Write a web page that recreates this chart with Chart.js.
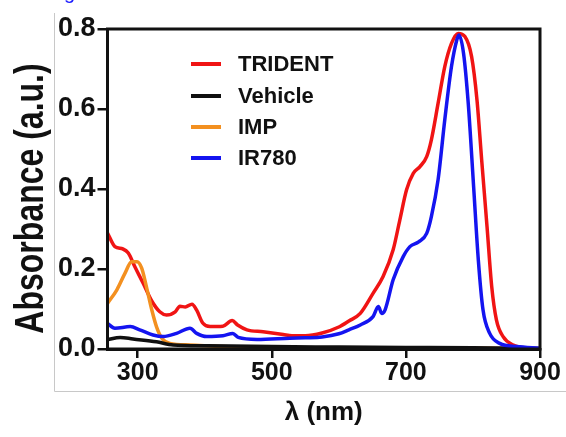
<!DOCTYPE html>
<html><head><meta charset="utf-8">
<script src="https://cdn.jsdelivr.net/npm/chart.js@4"></script>
<style>html,body{margin:0;padding:0;background:#fff}#wrap{width:566px;height:437px;position:relative}</style>
</head><body><div id="wrap"><canvas id="c" width="566" height="437"></canvas></div>
<script>
const seriesLabels = ['TRIDENT', 'Vehicle', 'IMP', 'IR780'];
const seriesColors = ['#f01414', '#101010', '#f39020', '#1414f0'];

const tridentWl  = [255,266,278,286,296,308,321,333,343,356,363,371,381,388,397,408,427,441,449,463,487,517,530,550,575,600,615,632,651,666,681,691,701,711,721,731,738,748,758,768,778,788,798,806,813,821,828,835,845,860,880,900];
const tridentAbs = [0.29,0.256,0.25,0.24,0.205,0.165,0.12,0.093,0.085,0.093,0.107,0.105,0.112,0.097,0.065,0.056,0.057,0.071,0.06,0.048,0.043,0.036,0.033,0.033,0.04,0.055,0.07,0.089,0.139,0.181,0.248,0.323,0.398,0.439,0.456,0.481,0.523,0.614,0.706,0.764,0.789,0.781,0.731,0.623,0.473,0.306,0.156,0.073,0.031,0.01,0.002,0.0];

const vehicleWl  = [255,274,293,328,353,403,500,600,700,800,900];
const vehicleAbs = [0.023,0.029,0.025,0.018,0.01,0.008,0.006,0.005,0.004,0.003,0.001];

const impWl  = [255,269,281,291,299,306,313,321,328,336,348,378,427,527,700,900];
const impAbs = [0.114,0.148,0.189,0.218,0.218,0.202,0.156,0.098,0.056,0.027,0.014,0.01,0.006,0.003,0.002,0.002];

const ir780Wl  = [255,266,289,303,323,338,358,378,388,403,427,442,450,478,527,550,575,600,615,632,651,659,664,669,681,696,706,719,731,738,748,758,768,776,779,786,793,801,808,815,825,840,865,900];
const ir780Abs = [0.064,0.052,0.056,0.048,0.035,0.031,0.039,0.052,0.039,0.031,0.033,0.039,0.029,0.024,0.027,0.028,0.03,0.038,0.048,0.06,0.081,0.106,0.089,0.098,0.173,0.231,0.256,0.268,0.289,0.331,0.423,0.573,0.706,0.773,0.785,0.739,0.614,0.406,0.223,0.098,0.039,0.014,0.006,0.002];

const xTicks = [300, 500, 700, 900];
const yTicks = [0, 0.2, 0.4, 0.6, 0.8];
const xTitle = 'λ (nm)';
const yTitle = 'Absorbance (a.u.)';

const wlArrays = [tridentWl, vehicleWl, impWl, ir780Wl];
const absArrays = [tridentAbs, vehicleAbs, impAbs, ir780Abs];
const drawOrder = [3, 1, 2, 0];

const datasets = seriesLabels.map((lab, i) => ({
  label: lab,
  data: wlArrays[i].map((w, j) => ({x: w, y: absArrays[i][j]})),
  borderColor: seriesColors[i],
  backgroundColor: seriesColors[i],
  borderWidth: 3.5,
  pointRadius: 0,
  tension: 0.4,
  cubicInterpolationMode: 'monotone',
  fill: false,
  order: drawOrder[i]
}));

const FONT = "'Liberation Sans', Arial, sans-serif";

const decor = {
  id: 'decor',
  beforeDraw(chart) {
    const ctx = chart.ctx;
    ctx.save();
    ctx.strokeStyle = '#c8c8c8';
    ctx.lineWidth = 1;
    ctx.beginPath();
    ctx.moveTo(54.5, 13);
    ctx.lineTo(54.5, 391.5);
    ctx.lineTo(566, 391.5);
    ctx.stroke();
    ctx.fillStyle = '#1a1aff';
    ctx.font = "20px " + FONT;
    ctx.textBaseline = 'alphabetic';
    ctx.fillText('g', 64, -1);
    // y axis title (rotated, slightly widened like the reference)
    ctx.fillStyle = '#111';
    ctx.font = "bold 32px " + FONT;
    ctx.textAlign = 'center';
    ctx.translate(43, 198.5);
    ctx.scale(1.25, 1);
    ctx.rotate(-Math.PI / 2);
    ctx.fillText(yTitle, 0, 0);
    ctx.restore();
  },
  afterDraw(chart) {
    const ctx = chart.ctx;
    const a = chart.chartArea;
    ctx.save();
    ctx.strokeStyle = '#111';
    ctx.lineWidth = 3;
    ctx.strokeRect(a.left, a.top, a.right - a.left, a.bottom - a.top);
    // legend
    const ys = [64, 96, 127, 158];
    ctx.font = "bold 22px " + FONT;
    ctx.textBaseline = 'middle';
    seriesLabels.forEach((lab, i) => {
      ctx.strokeStyle = seriesColors[i];
      ctx.lineWidth = 4;
      ctx.beginPath();
      ctx.moveTo(191, ys[i]);
      ctx.lineTo(221, ys[i]);
      ctx.stroke();
      ctx.fillStyle = '#111';
      ctx.fillText(lab, 238, ys[i] + 1);
    });
    ctx.restore();
  }
};

new Chart(document.getElementById('c'), {
  type: 'line',
  data: { datasets },
  options: {
    responsive: false,
    animation: false,
    devicePixelRatio: 1,
    layout: { padding: { left: 0, top: 29, right: 26, bottom: 0 } },
    plugins: { legend: { display: false }, tooltip: { enabled: false } },
    scales: {
      x: {
        type: 'linear',
        min: 255, max: 900,
        afterBuildTicks: s => { s.ticks = xTicks.map(v => ({value: v})); },
        afterFit: s => { s.height = 88; },
        ticks: { font: { family: FONT, weight: 'bold', size: 25 }, color: '#111', padding: 0, maxRotation: 0, autoSkip: false },
        grid: { display: true, drawOnChartArea: false, drawTicks: true, tickLength: 9, color: '#111', lineWidth: 2.5 },
        border: { display: true, color: '#111', width: 3 },
        title: { display: true, text: xTitle, font: { family: FONT, weight: 'bold', size: 26 }, color: '#111', padding: { top: 0, bottom: 9 } }
      },
      y: {
        type: 'linear',
        min: 0, max: 0.8,
        afterBuildTicks: s => { s.ticks = yTicks.map(v => ({value: v})); },
        afterFit: s => { s.width = 107.5; },
        ticks: { font: { family: FONT, weight: 'bold', size: 27 }, color: '#111', padding: 2, callback: v => v.toFixed(1) },
        grid: { display: true, drawOnChartArea: false, drawTicks: true, tickLength: 10, color: '#111', lineWidth: 2.5 },
        border: { display: true, color: '#111', width: 3 },
        title: { display: false }
      }
    }
  },
  plugins: [decor]
});
</script>
</body></html>
